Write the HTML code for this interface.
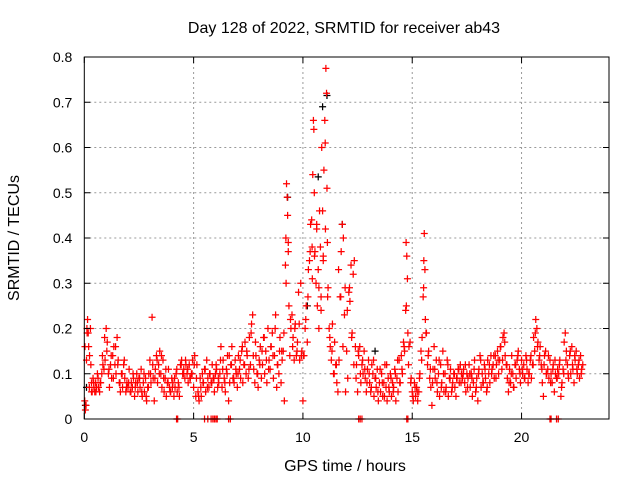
<!DOCTYPE html>
<html><head><meta charset="utf-8">
<style>
body{margin:0;background:#fff;width:640px;height:480px;overflow:hidden}
svg text{font-family:"Liberation Sans",sans-serif;font-size:14px;fill:#000}
svg text.big{font-size:16px}
</style></head>
<body>
<svg id="chart" width="640" height="480" xmlns="http://www.w3.org/2000/svg">
<rect width="640" height="480" fill="#fff"/>
<g id="grid"></g>
<g id="marks"></g>
<g id="axes"></g>
<text class="big" x="344" y="33" text-anchor="middle">Day 128 of 2022, SRMTID for receiver ab43</text>
<text class="big" x="345" y="471" text-anchor="middle">GPS time / hours</text>
<text class="big" transform="translate(19,238) rotate(-90)" text-anchor="middle">SRMTID / TECUs</text>
</svg>
<script>
const xTicks=[0,5,10,15,20];
const yTicks=[0,0.1,0.2,0.3,0.4,0.5,0.6,0.7,0.8];
const yTickLabels=["0","0.1","0.2","0.3","0.4","0.5","0.6","0.7","0.8"];
const hours=[
0.02,0.05,0.08,0.1,0.12,0.15,0.18,0.2,0.24,0.28,
0.3,0.33,0.36,0.4,0.44,0.48,0.52,0.56,0.6,0.65,
0.7,0.75,0.8,0.85,0.9,0.95,1.0,1.05,1.1,1.15,
1.2,1.25,1.3,1.35,1.4,1.45,1.5,1.55,1.6,1.65,
1.7,1.75,1.8,1.85,1.9,1.95,2.0,2.05,2.1,2.15,
2.2,2.25,2.3,2.35,2.4,2.45,2.5,2.55,2.6,2.65,
2.7,2.75,2.8,2.85,2.9,2.95,3.0,3.05,3.1,3.15,
3.2,3.25,3.3,3.35,3.4,3.45,3.5,3.55,3.6,3.65,
3.7,3.75,3.8,3.85,3.9,3.95,4.0,4.05,4.1,4.15,
4.2,4.25,4.3,4.35,4.4,4.45,4.5,4.55,4.6,4.65,
4.7,4.75,4.8,4.85,4.9,4.95,5.0,5.05,5.1,5.15,
5.2,5.25,5.3,5.35,5.4,5.45,5.5,5.55,5.6,5.65,
5.7,5.75,5.8,5.85,5.9,5.95,6.0,6.05,6.1,6.15,
6.2,6.25,6.3,6.35,6.4,6.45,6.5,6.55,6.6,6.65,
6.7,6.75,6.8,6.85,6.9,6.95,7.0,7.05,7.1,7.15,
7.2,7.25,7.3,7.35,7.4,7.45,7.5,7.55,7.6,7.65,
7.7,7.75,7.8,7.85,7.9,7.95,8.0,8.05,8.1,8.15,
8.2,8.25,8.3,8.35,8.4,8.45,8.5,8.55,8.6,8.65,
8.7,8.75,8.8,8.85,8.9,8.95,9.0,9.05,9.1,9.15,
9.2,9.22,9.25,9.28,9.3,9.33,9.36,9.4,9.45,9.5,
9.55,9.6,9.65,9.7,9.75,9.8,9.85,9.9,9.95,10.0,
10.05,10.1,10.15,10.2,10.25,10.3,10.35,10.4,10.42,10.45,
10.48,10.5,10.52,10.55,10.6,10.63,10.66,10.7,10.73,10.76,
10.8,10.83,10.86,10.9,10.93,10.96,11.0,11.02,11.05,11.08,
11.1,11.12,11.15,11.2,11.25,11.3,11.35,11.4,11.45,11.5,
11.55,11.6,11.65,11.7,11.75,11.8,11.85,11.9,11.95,12.0,
12.05,12.1,12.15,12.2,12.25,12.3,12.35,12.4,12.45,12.5,
12.55,12.6,12.65,12.7,12.75,12.8,12.85,12.9,12.95,13.0,
13.05,13.1,13.15,13.2,13.25,13.3,13.35,13.4,13.45,13.5,
13.55,13.6,13.65,13.7,13.75,13.8,13.85,13.9,13.95,14.0,
14.05,14.1,14.15,14.2,14.25,14.3,14.35,14.4,14.45,14.5,
14.55,14.6,14.65,14.7,14.72,14.75,14.78,14.8,14.85,14.9,
14.95,15.0,15.05,15.1,15.15,15.2,15.25,15.3,15.35,15.4,
15.45,15.5,15.52,15.55,15.58,15.6,15.65,15.7,15.75,15.8,
15.85,15.9,15.95,16.0,16.05,16.1,16.15,16.2,16.25,16.3,
16.35,16.4,16.45,16.5,16.55,16.6,16.65,16.7,16.75,16.8,
16.85,16.9,16.95,17.0,17.05,17.1,17.15,17.2,17.25,17.3,
17.35,17.4,17.45,17.5,17.55,17.6,17.65,17.7,17.75,17.8,
17.85,17.9,17.95,18.0,18.05,18.1,18.15,18.2,18.25,18.3,
18.35,18.4,18.45,18.5,18.55,18.6,18.65,18.7,18.75,18.8,
18.85,18.9,18.95,19.0,19.05,19.1,19.15,19.2,19.25,19.3,
19.35,19.4,19.45,19.5,19.55,19.6,19.65,19.7,19.75,19.8,
19.85,19.9,19.95,20.0,20.05,20.1,20.15,20.2,20.25,20.3,
20.35,20.4,20.45,20.5,20.55,20.6,20.65,20.7,20.75,20.8,
20.85,20.9,20.95,21.0,21.05,21.1,21.15,21.2,21.25,21.3,
21.35,21.4,21.45,21.5,21.55,21.6,21.65,21.7,21.75,21.8,
21.85,21.9,21.95,22.0,22.05,22.1,22.15,22.2,22.25,22.3,
22.35,22.4,22.45,22.5,22.55,22.6,22.65,22.7,22.75,22.8];
const tec=[
0.04,0.02,0.03,0.13,0.2,0.22,0.19,0.16,0.14,0.2,
0.12,0.08,0.06,0.09,0.07,0.06,0.08,0.07,0.1,0.07,
0.06,0.08,0.1,0.12,0.11,0.13,0.2,0.17,0.1,0.07,
0.12,0.09,0.14,0.16,0.12,0.1,0.18,0.13,0.08,0.06,
0.1,0.07,0.12,0.09,0.06,0.08,0.07,0.11,0.06,0.08,
0.07,0.09,0.05,0.08,0.1,0.06,0.09,0.07,0.11,0.05,
0.08,0.06,0.09,0.04,0.07,0.1,0.13,0.08,0.225,0.09,
0.04,0.11,0.14,0.08,0.12,0.15,0.1,0.07,0.13,0.06,
0.09,0.05,0.08,0.11,0.07,0.06,0.09,0.08,0.05,0.07,
0.1,0.06,0.08,0.05,0.12,0.13,0.1,0.11,0.09,0.12,
0.1,0.08,0.12,0.09,0.1,0.13,0.07,0.14,0.05,0.12,
0.06,0.04,0.09,0.05,0.1,0.08,0.11,0.06,0.13,0.09,
0.07,0.1,0.08,0.12,0.09,0.06,0.1,0.11,0.07,0.08,
0.1,0.16,0.07,0.13,0.09,0.06,0.11,0.14,0.04,0.08,
0.12,0.16,0.09,0.08,0.13,0.1,0.07,0.14,0.11,0.09,
0.15,0.08,0.12,0.17,0.1,0.14,0.09,0.18,0.12,0.21,
0.23,0.11,0.08,0.14,0.1,0.07,0.13,0.16,0.09,0.12,
0.18,0.1,0.15,0.08,0.2,0.13,0.11,0.16,0.19,0.09,
0.14,0.23,0.07,0.12,0.1,0.18,0.08,0.13,0.15,0.04,
0.34,0.4,0.52,0.49,0.45,0.37,0.25,0.14,0.2,0.23,
0.18,0.13,0.21,0.14,0.17,0.28,0.13,0.3,0.15,0.04,
0.14,0.2,0.25,0.17,0.33,0.35,0.43,0.44,0.38,0.54,
0.66,0.64,0.5,0.37,0.3,0.42,0.25,0.33,0.2,0.46,
0.38,0.27,0.6,0.46,0.35,0.55,0.66,0.61,0.775,0.72,
0.51,0.39,0.29,0.2,0.16,0.13,0.21,0.1,0.17,0.12,
0.08,0.06,0.13,0.27,0.37,0.43,0.4,0.23,0.06,0.15,
0.09,0.28,0.26,0.34,0.19,0.32,0.35,0.16,0.12,0.06,
0.14,0.16,0.08,0.12,0.1,0.15,0.09,0.06,0.11,0.13,
0.08,0.06,0.12,0.1,0.05,0.09,0.07,0.11,0.04,0.08,
0.06,0.1,0.05,0.08,0.12,0.07,0.04,0.09,0.06,0.1,
0.05,0.08,0.07,0.11,0.04,0.09,0.06,0.13,0.08,0.14,
0.1,0.17,0.15,0.24,0.39,0.36,0.31,0.19,0.16,0.17,
0.09,0.06,0.04,0.08,0.05,0.07,0.04,0.06,0.1,0.15,
0.18,0.27,0.29,0.41,0.33,0.22,0.19,0.12,0.15,0.09,
0.07,0.03,0.11,0.16,0.09,0.13,0.06,0.1,0.05,0.12,
0.08,0.15,0.06,0.1,0.07,0.13,0.05,0.09,0.11,0.06,
0.08,0.1,0.07,0.05,0.09,0.11,0.08,0.12,0.1,0.09,
0.11,0.08,0.06,0.1,0.09,0.12,0.07,0.1,0.05,0.08,
0.13,0.06,0.09,0.04,0.11,0.14,0.07,0.1,0.08,0.12,
0.09,0.06,0.13,0.1,0.08,0.14,0.11,0.12,0.09,0.14,
0.12,0.15,0.1,0.13,0.16,0.11,0.18,0.19,0.14,0.12,
0.09,0.06,0.11,0.08,0.14,0.1,0.07,0.12,0.09,0.13,
0.15,0.11,0.08,0.13,0.1,0.12,0.09,0.14,0.11,0.08,
0.1,0.13,0.09,0.12,0.18,0.15,0.22,0.2,0.17,0.13,
0.16,0.12,0.08,0.05,0.14,0.15,0.1,0.11,0.09,0.13,
0.1,0.08,0.12,0.06,0.1,0.09,0.11,0.1,0.13,0.05,
0.08,0.11,0.17,0.19,0.15,0.12,0.09,0.14,0.1,0.16,
0.11,0.08,0.13,0.15,0.1,0.12,0.09,0.14,0.11,0.12];
const hours2=[
0.03,0.13,0.23,0.33,0.43,0.53,0.63,0.73,0.83,0.93,
1.03,1.13,1.23,1.33,1.43,1.53,1.63,1.73,1.83,1.93,
2.03,2.13,2.23,2.33,2.43,2.53,2.63,2.73,2.83,2.93,
3.03,3.13,3.23,3.33,3.43,3.53,3.63,3.73,3.83,3.93,
4.03,4.13,4.23,4.33,4.43,4.53,4.63,4.73,4.83,4.93,
5.03,5.13,5.23,5.33,5.43,5.53,5.63,5.73,5.83,5.93,
6.03,6.13,6.23,6.33,6.43,6.53,6.63,6.73,6.83,6.93,
7.03,7.13,7.23,7.33,7.43,7.53,7.63,7.73,7.83,7.93,
8.03,8.13,8.23,8.33,8.43,8.53,8.63,8.73,8.83,8.93,
9.03,9.13,9.23,9.33,9.43,9.53,9.63,9.73,9.83,9.93,
10.03,10.13,10.23,10.33,10.43,10.53,10.63,10.73,10.83,10.93,
11.03,11.13,11.23,11.33,11.43,11.53,11.63,11.73,11.83,11.93,
12.03,12.13,12.23,12.33,12.43,12.53,12.63,12.73,12.83,12.93,
13.03,13.13,13.23,13.33,13.43,13.53,13.63,13.73,13.83,13.93,
14.03,14.13,14.23,14.33,14.43,14.53,14.63,14.73,14.83,14.93,
15.03,15.13,15.23,15.33,15.43,15.53,15.63,15.73,15.83,15.93,
16.03,16.13,16.23,16.33,16.43,16.53,16.63,16.73,16.83,16.93,
17.03,17.13,17.23,17.33,17.43,17.53,17.63,17.73,17.83,17.93,
18.03,18.13,18.23,18.33,18.43,18.53,18.63,18.73,18.83,18.93,
19.03,19.13,19.23,19.33,19.43,19.53,19.63,19.73,19.83,19.93,
20.03,20.13,20.23,20.33,20.43,20.53,20.63,20.73,20.83,20.93,
21.03,21.13,21.23,21.33,21.43,21.53,21.63,21.73,21.83,21.93,
22.03,22.13,22.23,22.33,22.43,22.53,22.63,22.73];
const tec2=[
0.16,0.19,0.07,0.06,0.08,0.06,0.09,0.08,0.14,0.18,
0.15,0.11,0.14,0.09,0.16,0.12,0.08,0.1,0.13,0.07,
0.08,0.06,0.1,0.07,0.08,0.09,0.06,0.1,0.05,0.07,
0.1,0.12,0.09,0.13,0.1,0.14,0.09,0.11,0.08,0.06,
0.07,0.09,0.11,0.07,0.12,0.1,0.13,0.11,0.09,0.1,
0.12,0.09,0.05,0.07,0.08,0.11,0.07,0.1,0.08,0.09,
0.12,0.09,0.13,0.11,0.08,0.1,0.14,0.12,0.09,0.11,
0.1,0.13,0.16,0.12,0.15,0.11,0.19,0.14,0.17,0.1,
0.12,0.15,0.18,0.13,0.11,0.16,0.14,0.2,0.12,0.15,
0.15,0.19,0.3,0.39,0.22,0.16,0.2,0.15,0.21,0.14,
0.14,0.22,0.27,0.37,0.31,0.36,0.43,0.29,0.24,0.36,
0.42,0.27,0.18,0.15,0.1,0.12,0.33,0.27,0.16,0.29,
0.24,0.29,0.18,0.12,0.09,0.15,0.1,0.13,0.11,0.08,
0.1,0.07,0.13,0.09,0.06,0.11,0.08,0.05,0.12,0.07,
0.09,0.06,0.1,0.13,0.08,0.11,0.16,0.25,0.12,0.08,
0.05,0.07,0.06,0.09,0.13,0.35,0.19,0.14,0.11,0.08,
0.11,0.08,0.13,0.07,0.1,0.06,0.12,0.09,0.07,0.1,
0.09,0.11,0.08,0.1,0.12,0.07,0.1,0.09,0.11,0.07,
0.1,0.13,0.08,0.11,0.07,0.12,0.1,0.14,0.09,0.13,
0.16,0.13,0.17,0.12,0.08,0.1,0.07,0.12,0.14,0.1,
0.11,0.09,0.13,0.1,0.14,0.12,0.19,0.16,0.14,0.11,
0.12,0.1,0.14,0.08,0.11,0.13,0.09,0.12,0.07,0.1,
0.13,0.1,0.15,0.12,0.14,0.11,0.13,0.1];
const zeroHours=[4.22,4.27,5.5,5.65,5.8,5.88,5.95,6.02,6.08,6.6,6.68,12.55,12.62,12.7,14.75,14.8,21.3,21.35,21.6,21.68];
const blackHours=[0.05,9.3,10.7,10.9,11.1,11.8,13.3,10.2,0.1];
const blackTec=[0.03,0.49,0.535,0.69,0.715,0.43,0.15,0.25,0.07];

const L=84.3,R=609,T=57,B=419,XMAX=24,YMAX=0.8;
const xs=v=>L+(R-L)*v/XMAX;
const ys=v=>B-(B-T)*v/YMAX;
const NS="http://www.w3.org/2000/svg";
function mk(tag,attrs,parent){const e=document.createElementNS(NS,tag);for(const k in attrs)e.setAttribute(k,attrs[k]);parent.appendChild(e);return e;}
const grid=document.getElementById('grid'),marks=document.getElementById('marks'),axes=document.getElementById('axes');
xTicks.forEach(t=>{
  if(t>0){
    const g=mk('line',{x1:xs(t),x2:xs(t),y1:T,y2:B,stroke:'#999','stroke-dasharray':'2,3'},grid);
    
    
  }
  const tk=mk('path',{d:`M${xs(t)},${B}v-6M${xs(t)},${T}v6`,stroke:'#000'},axes);
  
  
  const tx=mk('text',{x:xs(t),y:B+23,'text-anchor':'middle'},axes);
  tx.textContent=t;
  
  
});
yTicks.forEach((t,i)=>{
  if(t>0&&t<YMAX){
    const g=mk('line',{x1:L,x2:R,y1:ys(t),y2:ys(t),stroke:'#999','stroke-dasharray':'2,3'},grid);
    
    
  }
  const tk=mk('path',{d:`M${L},${ys(t)}h6M${R},${ys(t)}h-6`,stroke:'#000'},axes);
  
  
  const tx=mk('text',{x:L-12,y:ys(t)+5,'text-anchor':'end'},axes);
  tx.textContent=yTickLabels[i];
  
  
});
const fr=mk('rect',{x:L,y:T,width:R-L,height:B-T,fill:'none',stroke:'#000'},axes);


function plus(x,y,col,name){
  const p=mk('path',{d:`M${x-3.5},${y}h7M${x},${y-3.5}v7`,stroke:col,'stroke-width':1.25,fill:'none'},marks);
  
  
}
blackHours.forEach((h,i)=>plus(xs(h),ys(blackTec[i]),'#000','black-point'));
hours.forEach((h,i)=>plus(xs(h),ys(tec[i]),'#f00','srmtid-point'));
hours2.forEach((h,i)=>plus(xs(h),ys(tec2[i]),'#f00','srmtid-point'));
zeroHours.forEach(h=>plus(xs(h),ys(0),'#f00','zero-point'));
</script>
</body></html>
